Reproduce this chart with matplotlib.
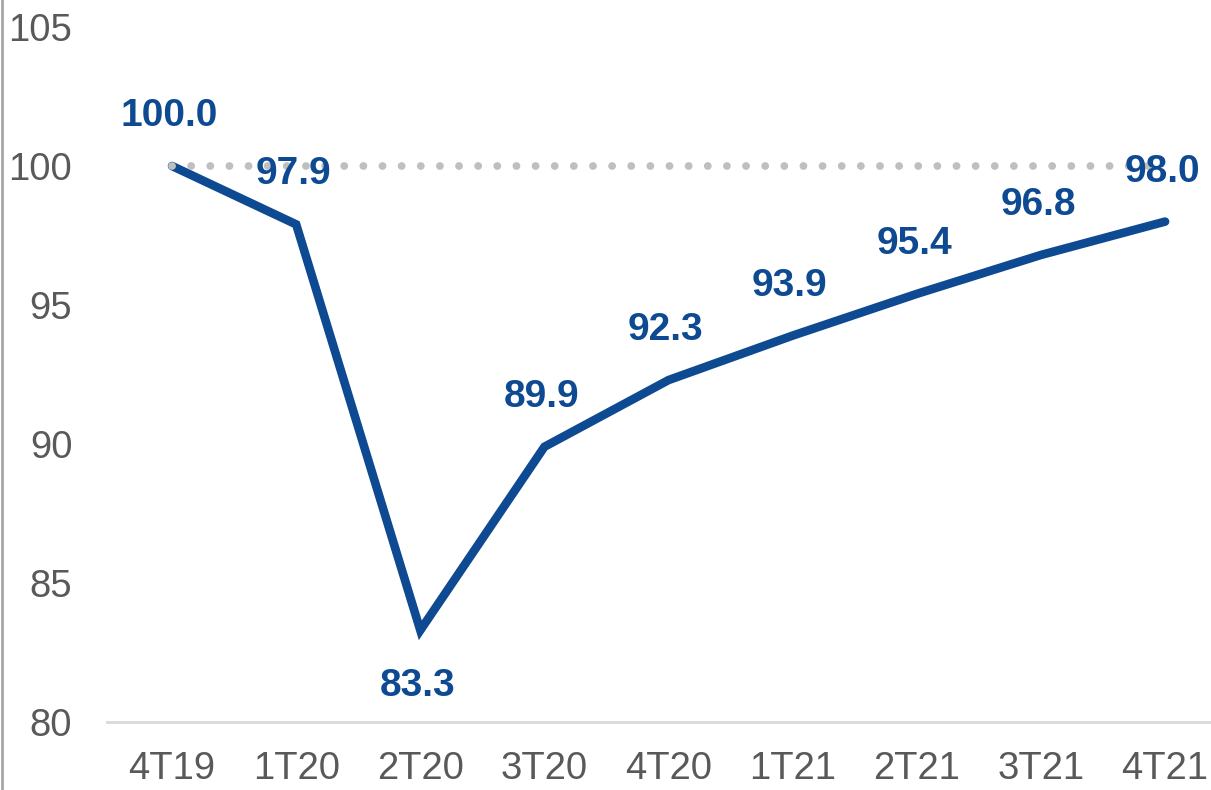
import matplotlib.pyplot as plt
from matplotlib.lines import Line2D

quarters = ['4T19', '1T20', '2T20', '3T20', '4T20', '1T21', '2T21', '3T21', '4T21']
values = [100.0, 97.9, 83.3, 89.9, 92.3, 93.9, 95.4, 96.8, 98.0]
baseline = [100.0] * len(quarters)
label_below = [False, False, True, False, False, False, False, False, False]

BLUE = '#0e4a91'
GREY_TXT = '#595959'

plt.rcParams['font.family'] = ['Liberation Sans', 'DejaVu Sans']

fig = plt.figure(figsize=(12.11, 7.90), dpi=100)
ax = fig.add_axes([107 / 1211, 68 / 790, 1104 / 1211, 695 / 790])

x = list(range(len(quarters)))
ax.plot(x, values, color=BLUE, lw=6.2, solid_capstyle='round', solid_joinstyle='miter', zorder=2)
ax.plot(x, baseline, color='#bfbfbf', lw=5.6, ls=(0, (0.01, 2.45)),
        dash_capstyle='round', zorder=3)

# value labels
for xi, v, below in zip(x, values, label_below):
    off = -40 if below else 36
    ax.annotate('%.1f' % v, (xi, v), xytext=(-2, off), textcoords='offset points',
                ha='center', va='center', fontsize=28, fontweight='bold', color=BLUE, zorder=4)

ax.set_ylim(80, 105)
ax.set_yticks([80, 85, 90, 95, 100, 105])
ax.set_xlim(-0.524, 8.37)
ax.set_xticks(x)
ax.set_xticklabels(quarters)

for s in ['top', 'right', 'left']:
    ax.spines[s].set_visible(False)
ax.spines['bottom'].set_color('#d9d9d9')
ax.spines['bottom'].set_linewidth(2)

ax.tick_params(axis='both', length=0, labelsize=27.5, labelcolor=GREY_TXT)
ax.tick_params(axis='x', pad=21)
ax.tick_params(axis='y', pad=25)

fig.add_artist(Line2D([2 / 1211, 2 / 1211], [0, 1], color='#a6a6a6', lw=2))

fig.savefig('out.png', dpi=100)
